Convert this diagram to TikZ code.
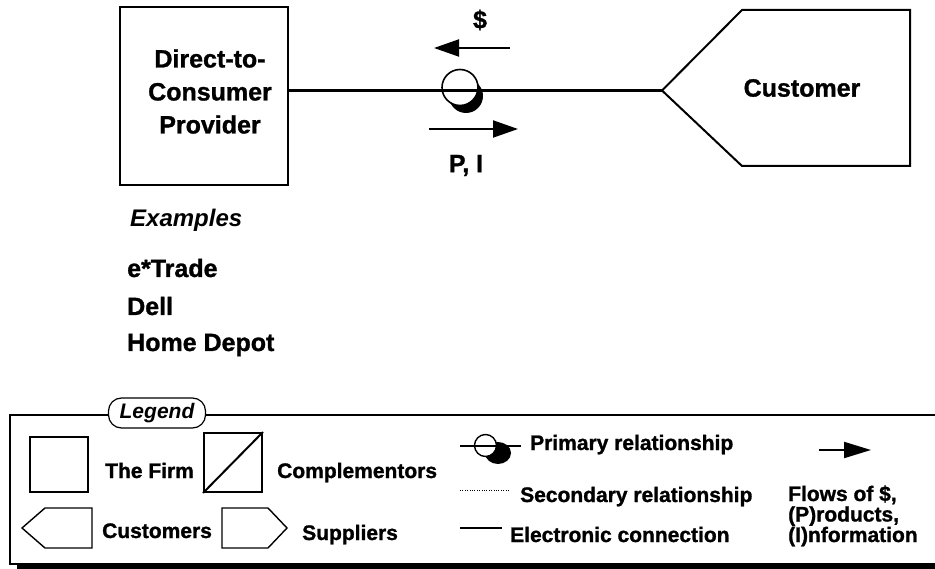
\documentclass[tikz,border=0pt]{standalone}
\usepackage{fontspec}
\setmainfont{Liberation Sans}[BoldFeatures={FakeBold=1.2}]
\usetikzlibrary{arrows.meta}
\begin{document}
\begin{tikzpicture}[x=1pt,y=-1pt,
  bigtxt/.style={font=\fontsize{25}{33}\selectfont\bfseries, inner sep=0pt, align=center},
  listtxt/.style={font=\fontsize{25}{30}\selectfont\bfseries, inner sep=0pt, anchor=base west},
  smalltxt/.style={font=\fontsize{21}{20.5}\selectfont\bfseries, inner sep=0pt, anchor=base west},
  firmbox/.style={draw, line width=2pt, inner sep=0pt},
  legshape/.style={draw, line width=1.4pt},
  flowarrow/.style={line width=2pt, -{Triangle[length=25pt,width=17pt]}},
]
\useasboundingbox (0,0) rectangle (935,569);

% ---- main diagram ----
\node[firmbox, minimum width=168pt, minimum height=178pt] (provider) at (204,96) {};
\node[bigtxt] (providertext) at (210,91.5) {Direct-to-\\Consumer\\Provider};

\coordinate (custtip) at (662,90.5);
\draw[line width=2pt, line join=miter] (custtip) -- (742,10) -- (910,10) -- (910,166) -- (742,166) -- cycle;
\node[bigtxt] (customer) at (802,88) {Customer};

% primary relationship symbol
\fill (466,96) circle (17pt);
\draw[line width=1.6pt, fill=white] (460,87.5) circle (18pt);
\draw[line width=3pt] (custtip -| provider.east) -- (custtip);

% flows
\coordinate (dollarA) at (510,48);
\coordinate (dollarB) at (434,48);
\draw[flowarrow] (dollarA) -- (dollarB);
\node[bigtxt] (dollar) at (480,20) {\$};
\coordinate (piA) at (429,129);
\coordinate (piB) at (518,129);
\draw[flowarrow] (piA) -- (piB);
\node[bigtxt] (pi) at (466,165.5) {P, I};

% examples
\node[listtxt, font=\fontsize{24}{30}\selectfont\bfseries\itshape] (examples) at (130,227) {Examples};
\node[listtxt] (etrade) at (127,277) {e*Trade};
\node[listtxt] (dell) at (127,315) {Dell};
\node[listtxt] (homedepot) at (127,351) {Home Depot};

% ---- legend ----
\fill (17,563.5) rectangle (940,570);
\draw[line width=1.5pt] (940,415) -- (10,415) -- (10,564) -- (940,564);
\node[draw, line width=1.2pt, fill=white, rounded corners=13pt, minimum width=97pt, minimum height=30pt, inner sep=0pt,
      font=\fontsize{21}{24}\selectfont\bfseries\itshape] (legend) at (157,413) {Legend};

\node[legshape, minimum width=58pt, minimum height=55pt, inner sep=0pt] (firmsym) at (59,464.5) {};
\node[smalltxt] (firmlbl) at (105,478) {The Firm};

\node[draw, line width=2pt, minimum width=58pt, minimum height=59pt, inner sep=0pt] (compsym) at (233,462.5) {};
\draw[line width=2pt] (compsym.south west) -- (compsym.north east);
\node[smalltxt] (complbl) at (277,478) {Complementors};

\draw[legshape] (22,528) -- (45,508) -- (92,508) -- (92,548) -- (45,548) -- cycle;
\node[smalltxt] (custlbl) at (102,538) {Customers};
\draw[legshape] (222,508) -- (268,508) -- (287,528) -- (268,548) -- (222,548) -- cycle;
\node[smalltxt] (supplbl) at (302,540) {Suppliers};

% primary relationship legend
\fill (498,453) ellipse (13pt and 11pt);
\draw[line width=1.4pt, fill=white] (485.5,445.5) circle (11pt);
\coordinate (primA) at (460,446);
\coordinate (primB) at (521,446);
\draw[line width=1.5pt] (primA) -- (primB);
\node[smalltxt] (primlbl) at (530,450) {Primary relationship};

\coordinate (secA) at (460,490);
\coordinate (secB) at (510,490);
\draw[line width=0.6pt, dash pattern=on 0.8pt off 1.6pt] (secA) -- (secB);
\node[smalltxt] (seclbl) at (520,502) {Secondary relationship};

\coordinate (elecA) at (460,528);
\coordinate (elecB) at (502,528);
\draw[line width=1.5pt] (elecA) -- (elecB);
\node[smalltxt] (eleclbl) at (510,542) {Electronic connection};

\coordinate (flowA) at (819,450);
\coordinate (flowB) at (871,450);
\draw[line width=2pt, -{Triangle[length=27pt,width=16pt]}] (flowA) -- (flowB);
\node[smalltxt] (flow1) at (788,501) {Flows of \$,};
\node[smalltxt] (flow2) at (788,521.5) {(P)roducts,};
\node[smalltxt] (flow3) at (788,542) {(I)nformation};
\end{tikzpicture}
\end{document}
